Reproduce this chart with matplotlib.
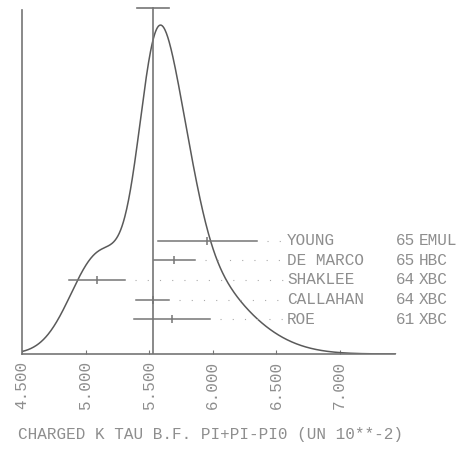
import numpy as np
import matplotlib.pyplot as plt

plt.rcParams['font.family'] = 'Liberation Mono'

# ---- measurements (listed bottom row first) ----
names = ["ROE", "CALLAHAN", "SHAKLEE", "DE MARCO", "YOUNG"]
years = ["61", "64", "64", "65", "65"]
techniques = ["XBC", "XBC", "XBC", "HBC", "EMUL"]
values = [5.68, 5.53, 5.09, 5.70, 5.96]
errors = [0.30, 0.13, 0.22, 0.16, 0.39]

# average and its error
avg_value = 5.53
avg_error = 0.125

tick_values = [4.5, 5.0, 5.5, 6.0, 6.5, 7.0]
tick_labels = ["4.500", "5.000", "5.500", "6.000", "6.500", "7.000"]
xlabel = "CHARGED K TAU B.F. PI+PI-PI0 (UN 10**-2)"

LINE = '#757575'
CURVE = '#5a5a5a'
TEXT = '#8e8e8e'

fig = plt.figure(figsize=(4.61, 4.5), dpi=100, facecolor='white')
ax = fig.add_axes([22 / 461, 96 / 450, 439 / 461, 349 / 450])
ax.set_xlim(4.5, 4.5 + 439 / 127)
ax.set_ylim(0, 1.061)

# ideogram: one gaussian per measurement, height ~ 1/error
xs = np.linspace(4.5, 7.44, 800)
ideo = np.zeros_like(xs)
for v, e in zip(values, errors):
    ideo += np.exp(-0.5 * ((xs - v) / e) ** 2) / e
ideo /= ideo.max()
ax.plot(xs, ideo, color=CURVE, lw=1.1)

# average line with its error cap
cap_y = 1.052
ax.plot([avg_value, avg_value], [0, cap_y], color=LINE, lw=1.2)
ax.plot([avg_value - avg_error, avg_value + avg_error], [cap_y, cap_y],
        color=LINE, lw=1.2)

# measurement rows
name_x = 4.5 + 265 / 127
year_x = 4.5 + 374 / 127
tech_x = 4.5 + 397 / 127
for i, (n, yr, t, v, e) in enumerate(zip(names, years, techniques, values, errors)):
    y = 0.105 + 0.06 * i
    ax.plot([v - e, v + e], [y, y], color=LINE, lw=1.1)
    ax.plot([v], [y], marker='|', ms=6, mew=1.1, color=LINE)
    ax.plot([v + e + 0.08, name_x - 0.02], [y, y], color='#aaaaaa', lw=0.8,
            linestyle=(0, (1, 10)))
    ax.text(name_x, y, n, color=TEXT, fontsize=11.5, va='center', ha='left')
    ax.text(year_x, y, yr, color=TEXT, fontsize=11.5, va='center', ha='left')
    ax.text(tech_x, y, t, color=TEXT, fontsize=11.5, va='center', ha='left')

# axes frame: only the baseline and the left line
for s in ['top', 'right']:
    ax.spines[s].set_visible(False)
ax.spines['bottom'].set_bounds(4.5, 7.44)
ax.spines['left'].set_bounds(0, 1.046)
ax.spines['bottom'].set_color(LINE)
ax.spines['left'].set_color(LINE)
ax.spines['bottom'].set_linewidth(1.2)
ax.spines['left'].set_linewidth(1.2)

ax.set_xticks(tick_values)
ax.set_xticklabels(tick_labels, rotation=90, color=TEXT, fontsize=11.5)
ax.tick_params(axis='x', direction='in', length=3, color=LINE, pad=5)
ax.set_yticks([])

fig.text(18 / 461, 1 - 434 / 450, xlabel, color=TEXT, fontsize=11.5,
         ha='left', va='center')

fig.savefig('out.png', dpi=100, facecolor='white')
